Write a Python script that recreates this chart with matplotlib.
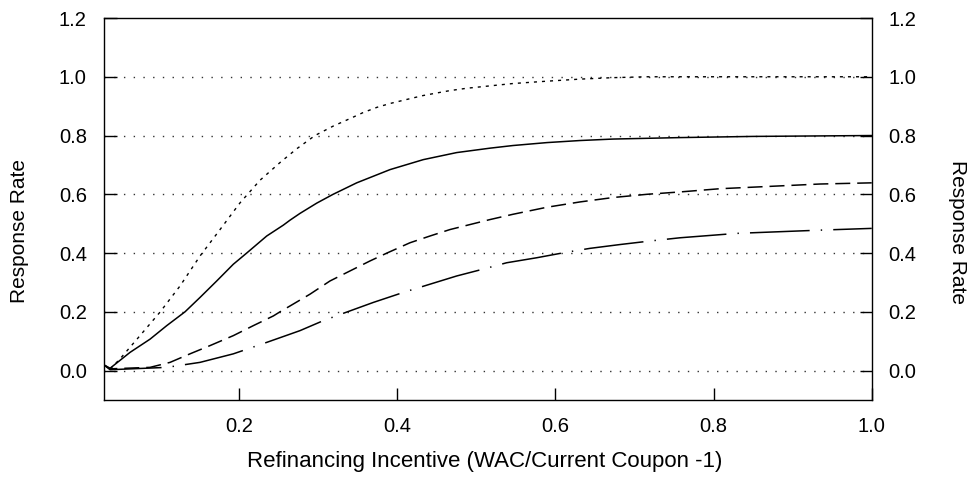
import matplotlib
matplotlib.use("Agg")
import matplotlib.pyplot as plt

plt.rcParams['font.family'] = ['Liberation Sans', 'DejaVu Sans']
plt.rcParams['lines.scale_dashes'] = False

# response curves (x = refinancing incentive)
x_max100 = [0.0287, 0.037, 0.0496, 0.0748, 0.1001, 0.1254, 0.1507, 0.176, 0.2013, 0.2266,
            0.2518, 0.273, 0.296, 0.319, 0.3414, 0.3568, 0.3744, 0.3909, 0.4124, 0.4326,
            0.4504, 0.4668, 0.4883, 0.5136, 0.5464, 0.5894, 0.6311, 0.6728, 0.7158, 0.8, 1.0]
y_max100 = [0.02, 0.005, 0.04, 0.119, 0.199, 0.288, 0.39, 0.48, 0.571, 0.648,
            0.708, 0.755, 0.80, 0.832, 0.859, 0.878, 0.896, 0.909, 0.923, 0.936,
            0.945, 0.953, 0.961, 0.968, 0.977, 0.985, 0.992, 0.997, 1.0, 1.0, 1.0]

x_max80 = [0.0287, 0.037, 0.0622, 0.0875, 0.1086, 0.1317, 0.1507, 0.1718, 0.1928, 0.2097,
           0.235, 0.256, 0.2645, 0.2771, 0.2983, 0.319, 0.3488, 0.3909, 0.433, 0.4752,
           0.5173, 0.5464, 0.5894, 0.6311, 0.6728, 0.7575, 0.85, 1.0]
y_max80 = [0.02, 0.008, 0.062, 0.107, 0.153, 0.2, 0.249, 0.305, 0.362, 0.4,
           0.458, 0.495, 0.512, 0.535, 0.57, 0.6, 0.639, 0.684, 0.718, 0.742,
           0.757, 0.766, 0.776, 0.783, 0.788, 0.793, 0.797, 0.8]

x_max64 = [0.0287, 0.037, 0.0875, 0.1128, 0.138, 0.1633, 0.1928, 0.2181, 0.2434, 0.2518,
           0.2645, 0.2897, 0.315, 0.3402, 0.3655, 0.387, 0.4161, 0.4414, 0.4667, 0.492,
           0.5173, 0.5464, 0.5894, 0.6311, 0.6728, 0.7158, 0.7575, 0.808, 0.8713, 0.9345, 1.0]
y_max64 = [0.02, 0.006, 0.011, 0.028, 0.057, 0.085, 0.119, 0.153, 0.186, 0.2,
           0.22, 0.26, 0.305, 0.339, 0.373, 0.4, 0.435, 0.458, 0.48, 0.497,
           0.514, 0.532, 0.556, 0.574, 0.589, 0.6, 0.608, 0.619, 0.627, 0.635, 0.639]

x_max48 = [0.0287, 0.037, 0.1086, 0.1507, 0.1928, 0.235, 0.2645, 0.2771, 0.3066, 0.334,
           0.3698, 0.4077, 0.4414, 0.4752, 0.511, 0.5384, 0.5763, 0.6143, 0.6437, 0.6817,
           0.7196, 0.7575, 0.8292, 0.9345, 1.0]
y_max48 = [0.02, 0.003, 0.011, 0.028, 0.057, 0.096, 0.124, 0.136, 0.17, 0.197,
           0.232, 0.266, 0.294, 0.322, 0.347, 0.367, 0.384, 0.403, 0.416, 0.429,
           0.441, 0.452, 0.467, 0.478, 0.484]

yticks = [0.0, 0.2, 0.4, 0.6, 0.8, 1.0, 1.2]
xticks = [0.2, 0.4, 0.6, 0.8, 1.0]

fig = plt.figure(figsize=(9.74, 4.84), dpi=100)
ax = fig.add_axes([0.1063, 0.1736, 0.895 - 0.1063, 0.9628 - 0.1736])

# dotted reference lines
for y in yticks[:-1]:
    ax.axhline(y, color='#333333', lw=1.0, linestyle=(0, (1, 6)), zorder=1)

ax.plot(x_max100, y_max100, color='black', lw=1.0, linestyle=(0, (2.2, 3.6)), zorder=3)
ax.plot(x_max80, y_max80, color='black', lw=1.1, linestyle='-', zorder=3)
ax.plot(x_max64, y_max64, color='black', lw=1.1, linestyle=(0, (10.8, 5)), zorder=3)
ax.plot(x_max48, y_max48, color='black', lw=1.1, linestyle=(0, (43, 8, 1, 8)), zorder=3)

ax.set_xlim(0.0287, 1.0)
ax.set_ylim(-0.1, 1.2)
ax.set_xticks(xticks)
ax.set_xticklabels(['%.1f' % v for v in xticks])
ax.set_yticks(yticks)
ax.set_yticklabels(['%.1f' % v for v in yticks])

ax.tick_params(direction='in', length=9, width=1.0, labelsize=14.5, pad=12,
               right=True, labelright=True, top=False)
for sp in ax.spines.values():
    sp.set_linewidth(1.0)

fig.text(0.4974, 0.0455, 'Refinancing Incentive (WAC/Current Coupon -1)',
         fontsize=16, ha='center', va='center')
fig.text(0.0205, 0.523, 'Response Rate', rotation=90, fontsize=15, ha='center', va='center')
fig.text(0.983, 0.521, 'Response Rate', rotation=-90, fontsize=15, ha='center', va='center')

fig.savefig('out.png', dpi=100)
